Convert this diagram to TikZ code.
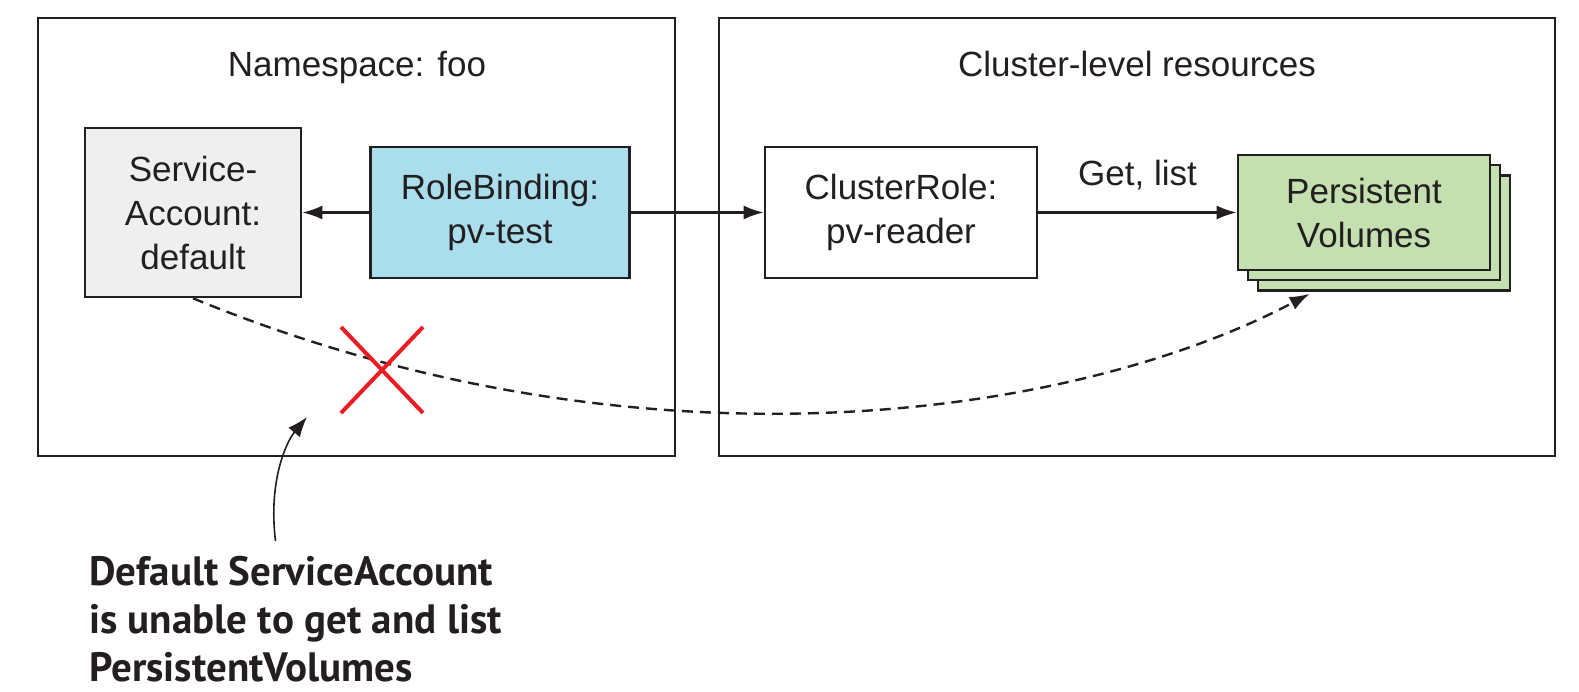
\documentclass[tikz,border=0pt]{standalone}
\usepackage{fontspec}
\setmainfont{Liberation Sans}
\newfontfamily\notefont{PT Sans}
\usetikzlibrary{arrows.meta,calc}
\definecolor{ink}{HTML}{231F20}
\definecolor{sagray}{HTML}{EFEFEF}
\definecolor{rbblue}{HTML}{ABDEEC}
\definecolor{pvgreen}{HTML}{C5E0B0}
\definecolor{xred}{HTML}{EC1C24}
\tikzset{
  frame/.style={draw=ink, line width=2.4pt, inner sep=0pt},
  box/.style={draw=ink, line width=2.6pt, inner sep=0pt, align=center,
    font=\fontsize{35}{44}\selectfont, text=ink},
  title/.style={font=\fontsize{35}{44}\selectfont, text=ink, inner sep=0pt},
  conn/.style={draw=ink, line width=2.4pt, -{Latex[length=20pt,width=14pt]}},
  dashconn/.style={draw=ink, line width=2.4pt, dash pattern=on 11pt off 7pt, -{Latex[length=20pt,width=14pt]}},
  notearrow/.style={draw=ink, line width=1.6pt, -{Latex[length=20pt,width=15pt]}},
  cross/.style={draw=xred, line width=4pt},
}
\begin{document}
\begin{tikzpicture}[x=1pt,y=-1pt]
\useasboundingbox[fill=white] (0,0) rectangle (1579,691);
% frames
\node[frame, minimum width=637pt, minimum height=438pt] (ns) at (356.5,237) {};
\node[frame, minimum width=836pt, minimum height=438pt] (cl) at (1137,237) {};
\node[title, anchor=base] (nst) at (357,76) {Namespace: foo};
\node[title, anchor=base] (clt) at (1137,76) {Cluster-level resources};
% boxes
\node[box, fill=sagray, minimum width=216pt, minimum height=169pt] (sa) at (193,212.5) {Service-\\Account:\\default};
\node[box, fill=rbblue, minimum width=259pt, minimum height=131pt] (rb) at (500,212.5) {RoleBinding:\\pv-test};
\node[box, fill=white, minimum width=272pt, minimum height=131pt] (cr) at (901,212.5) {ClusterRole:\\pv-reader};
\node[box, fill=pvgreen, minimum width=252pt, minimum height=115pt] (pv3) at (1384,233) {};
\node[box, fill=pvgreen, minimum width=252pt, minimum height=115pt] (pv2) at (1374,222.5) {};
\node[box, fill=pvgreen, minimum width=252pt, minimum height=115pt] (pv) at (1364,212.5) {Persistent\\Volumes};
% connectors
\draw[conn] (rb.west) -- (sa.east);
\draw[conn] (rb.east) -- (cr.west);
\draw[conn] (cr.east) -- node[title, above=21pt] (gl) {Get, list} (pv.west);
\coordinate (pvtip) at ($(pv3.south west)+(53,2)$);
\draw[dashconn] (sa.south) .. controls (643,483) and (1076,417) .. (pvtip);
% red cross
\coordinate (x1) at (341,327);
\coordinate (x2) at (423,413);
\coordinate (x3) at (423,327);
\coordinate (x4) at (341,413);
\draw[cross] (x1) -- (x2);
\draw[cross] (x3) -- (x4);
% note
\node[anchor=north west, align=left, inner sep=0pt, text=ink,
  font=\notefont\bfseries\fontsize{41}{48}\selectfont] (note) at (89,556)
  {Default ServiceAccount\\is unable to get and list\\PersistentVolumes};
\coordinate (nstart) at (275.5,541);
\coordinate (ntip) at (307,417);
\draw[notearrow] (nstart) .. controls (268,480) and (287,441) .. (ntip);
\end{tikzpicture}
\end{document}
